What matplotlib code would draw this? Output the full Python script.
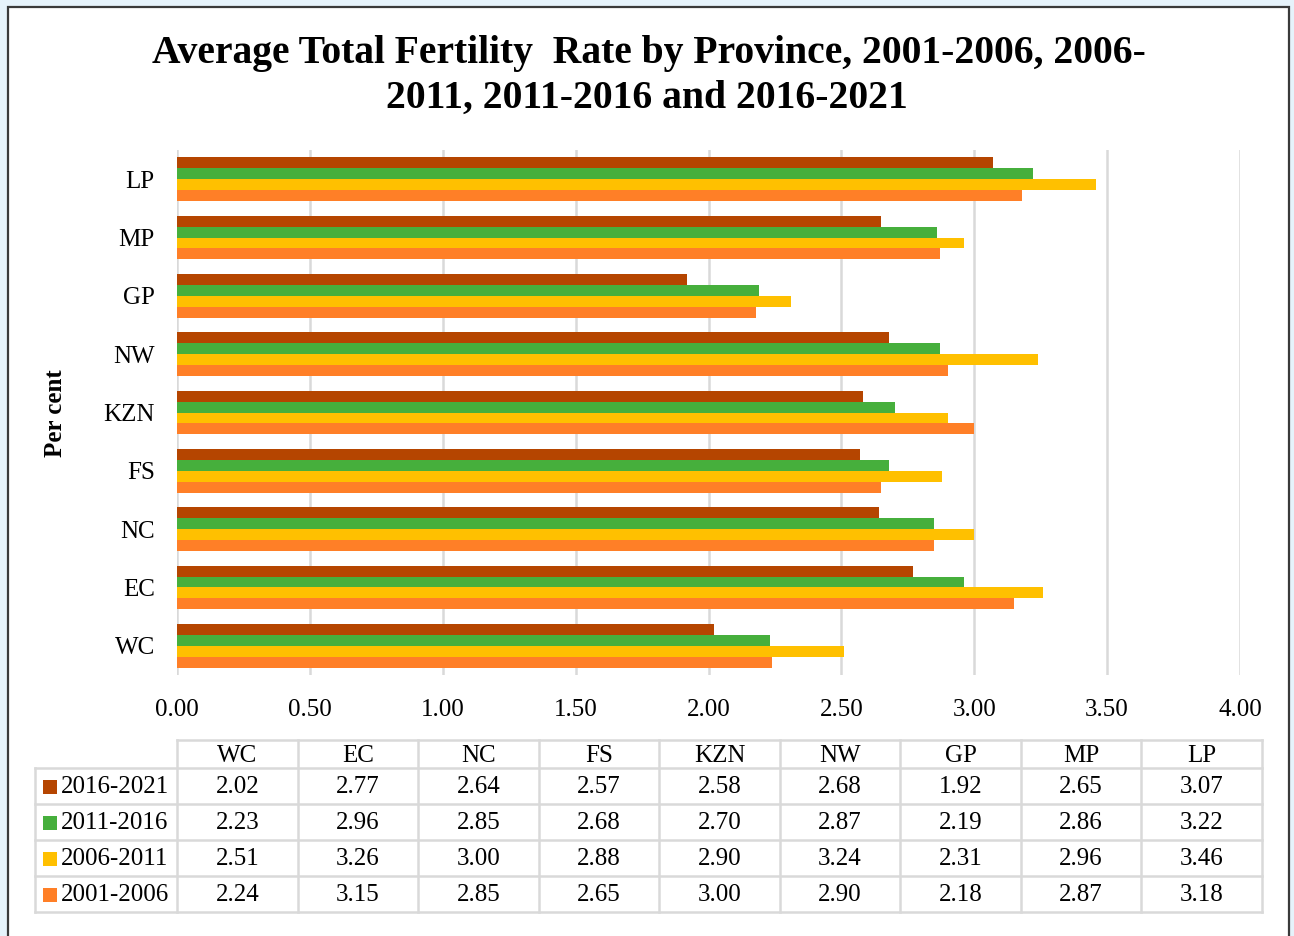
import matplotlib
matplotlib.use("Agg")
import matplotlib.pyplot as plt
from matplotlib.patches import Rectangle
from matplotlib.lines import Line2D
import numpy as np

provinces = ["WC", "EC", "NC", "FS", "KZN", "NW", "GP", "MP", "LP"]
series_names = ["2016-2021", "2011-2016", "2006-2011", "2001-2006"]
v_2016_2021 = [2.02, 2.77, 2.64, 2.57, 2.58, 2.68, 1.92, 2.65, 3.07]
v_2011_2016 = [2.23, 2.96, 2.85, 2.68, 2.70, 2.87, 2.19, 2.86, 3.22]
v_2006_2011 = [2.51, 3.26, 3.00, 2.88, 2.90, 3.24, 2.31, 2.96, 3.46]
v_2001_2006 = [2.24, 3.15, 2.85, 2.65, 3.00, 2.90, 2.18, 2.87, 3.18]
series_values = [v_2016_2021, v_2011_2016, v_2006_2011, v_2001_2006]
colors = ["#B54500", "#46AF3C", "#FFC000", "#FF7F27"]
x_ticks = [0.0, 0.5, 1.0, 1.5, 2.0, 2.5, 3.0, 3.5, 4.0]

W, H = 1294, 936
plt.rcParams["font.family"] = ["Liberation Serif", "DejaVu Serif"]
fig = plt.figure(figsize=(W / 100, H / 100), dpi=100)
fig.patch.set_facecolor("#E6F3FB")

def fx(px):
    return px / W

def fy(py):
    return 1 - py / H

# white frame
frame = Rectangle((fx(8), fy(960)), fx(1289) - fx(8), fy(7) - fy(960),
                  transform=fig.transFigure, facecolor="white",
                  edgecolor="#3A3A3A", linewidth=1.6, zorder=-10)
fig.patches.append(frame)

# title
fig.text(fx(649), fy(53), "Average Total Fertility  Rate by Province, 2001-2006, 2006-",
         ha="center", va="center", fontsize=28.5, fontweight="bold")
fig.text(fx(647), fy(98), "2011, 2011-2016 and 2016-2021",
         ha="center", va="center", fontsize=28.5, fontweight="bold")

# plot axes
ax = fig.add_axes([fx(177), fy(675), fx(1240) - fx(177), fy(150) - fy(675)])
ax.set_facecolor("none")
ax.set_zorder(5)
n = len(provinces)
ypos = np.arange(n)
bh = 0.186
offsets = [1.5 * bh, 0.5 * bh, -0.5 * bh, -1.5 * bh]
for vals, col, off, name in zip(series_values, colors, offsets, series_names):
    ax.barh(ypos + off, vals, height=bh, color=col, label=name, zorder=2)

ax.set_xlim(0, 4.0)
ax.set_ylim(-0.5, n - 0.5)
ax.set_xticks(x_ticks)
ax.set_xticklabels([f"{t:.2f}" for t in x_ticks], fontsize=18)
ax.set_yticks(ypos)
ax.set_yticklabels(provinces, fontsize=18)
ax.tick_params(axis="both", length=0)
ax.tick_params(axis="x", pad=17)
ax.tick_params(axis="y", pad=16)
ax.grid(axis="x", color="#D9D9D9", linewidth=1.8, zorder=0)
ax.set_axisbelow(True)
for s in ax.spines.values():
    s.set_visible(False)

fig.text(fx(55), fy(413), "Per cent", rotation=90, ha="center", va="center",
         fontsize=18, fontweight="bold")

# data table
tcol = "#D9D9D9"
tlw = 1.8
x0, x1 = 177, 1262
xl = 35
rows_y = [740, 768, 804, 840, 876, 912]
colw = (x1 - x0) / n

def hline(y, xa, xb):
    fig.add_artist(Line2D([fx(xa), fx(xb)], [fy(y), fy(y)], transform=fig.transFigure,
                          color=tcol, linewidth=tlw))

def vline(x, ya, yb):
    fig.add_artist(Line2D([fx(x), fx(x)], [fy(ya), fy(yb)], transform=fig.transFigure,
                          color=tcol, linewidth=tlw))

hline(rows_y[0], x0, x1)
for y in rows_y[1:]:
    hline(y, xl, x1)
for j in range(n + 1):
    vline(x0 + j * colw, rows_y[0], rows_y[-1])
vline(xl, rows_y[1], rows_y[-1])

for j, p in enumerate(provinces):
    fig.text(fx(x0 + (j + 0.5) * colw), fy((rows_y[0] + rows_y[1]) / 2 + 2), p,
             ha="center", va="center", fontsize=18)

for i, (name, vals, col) in enumerate(zip(series_names, series_values, colors)):
    yc = (rows_y[i + 1] + rows_y[i + 2]) / 2 + 1
    key = Rectangle((fx(43), fy(yc + 7)), fx(14), 14 / H, transform=fig.transFigure,
                    facecolor=col, edgecolor="none")
    fig.patches.append(key)
    fig.text(fx(61), fy(yc), name, ha="left", va="center", fontsize=18)
    for j, v in enumerate(vals):
        fig.text(fx(x0 + (j + 0.5) * colw), fy(yc), f"{v:.2f}",
                 ha="center", va="center", fontsize=18)

fig.savefig("out.png", dpi=100, facecolor=fig.get_facecolor())
